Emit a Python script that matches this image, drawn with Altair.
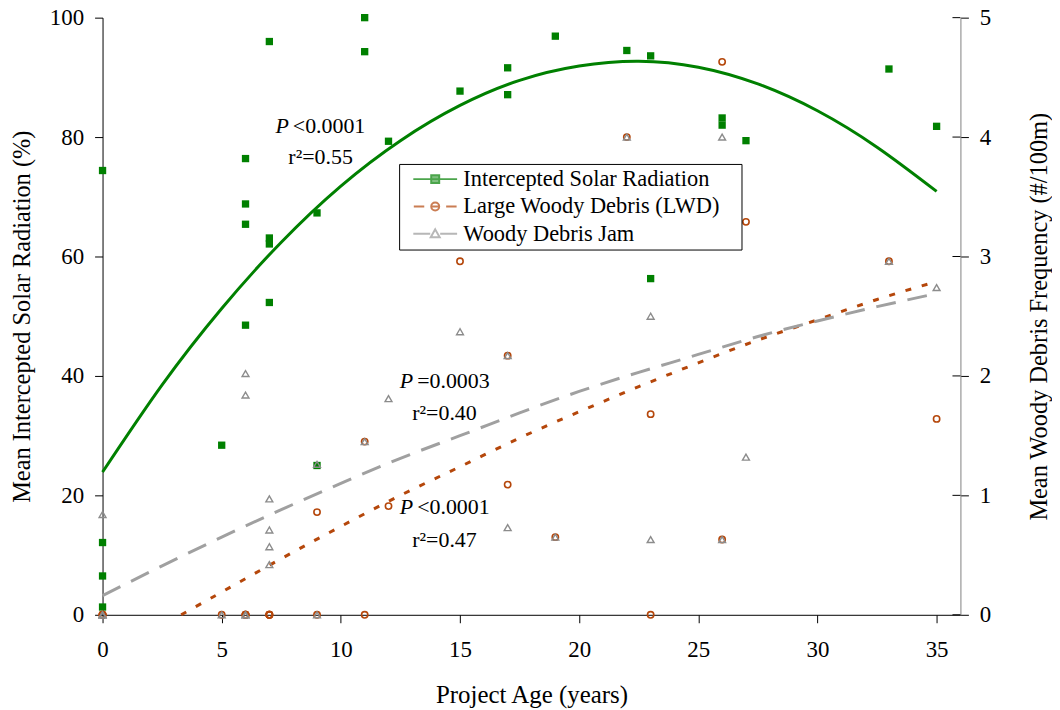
import altair as alt
import pandas as pd

FONT = "Liberation Serif"
PAD_CHAR = "\u2800"

# ---- scatter data ----
solar_x = [0, 0, 0, 0, 5, 6, 6, 6, 6, 7, 7, 7, 7, 9, 9, 11, 11, 12, 15, 17, 17, 19, 22, 23, 23, 26, 26, 27, 33, 35]
solar_y = [74.4, 12.1, 6.5, 1.3, 28.4, 76.4, 68.8, 65.4, 48.5, 96.0, 63.1, 62.1, 52.3, 67.3, 25.0,
           100.0, 94.3, 79.3, 87.7, 91.6, 87.1, 96.9, 94.5, 93.6, 56.3, 83.2, 82.0, 79.4, 91.4, 81.8]

lwd_x = [0, 0, 0, 0, 5, 6, 6, 6, 6, 7, 7, 7, 7, 9, 9, 11, 11, 12, 15, 17, 17, 19, 22, 23, 23, 26, 26, 27, 33, 35]
lwd_y = [0, 0, 0, 0, 0, 0, 0, 0, 0, 0, 0, 0, 0, 0.86, 0, 1.45, 0, 0.91, 2.96, 2.17, 1.09, 0.65,
         4.0, 1.68, 0, 4.63, 0.63, 3.29, 2.96, 1.64]

jam_x = [0, 0, 0, 0, 5, 6, 6, 6, 6, 7, 7, 7, 7, 9, 9, 11, 12, 15, 17, 17, 19, 22, 23, 23, 26, 26, 27, 33, 35]
jam_y = [0.84, 0, 0, 0, 0, 2.02, 1.84, 0, 0, 0.97, 0.71, 0.57, 0.42, 1.26, 0, 1.45, 1.81, 2.37,
         2.17, 0.73, 0.65, 4.0, 2.50, 0.63, 4.0, 0.63, 1.32, 2.96, 2.74]

# ---- fitted curves ----
solar_fit_x = [0, 2.5, 5, 7.5, 10, 12.5, 15, 17.5, 20, 22.5, 25, 27.5, 30, 32.5, 35]
solar_fit_y = [23.9, 38.5, 51.3, 62.4, 71.8, 79.4, 85.3, 89.5, 91.9, 92.7, 91.7, 88.9, 84.4, 78.3, 70.9]

lwd_fit_x = [3.3, 5, 7.5, 10, 12.5, 15, 17.5, 20, 22.5, 25, 27.5, 30, 32.5, 35]
lwd_fit_y = [0.0, 0.19, 0.47, 0.74, 1.00, 1.24, 1.48, 1.70, 1.91, 2.11, 2.30, 2.47, 2.64, 2.79]

jam_fit_x = [0, 2.5, 5, 7.5, 10, 12.5, 15, 17.5, 20, 22.5, 25, 27.5, 30, 32.5, 35]
jam_fit_y = [0.16, 0.41, 0.65, 0.88, 1.10, 1.31, 1.50, 1.69, 1.87, 2.03, 2.18, 2.33, 2.46, 2.58, 2.69]

# ---- annotations ----
ann_p_x = [7.9, 13.12, 13.12]
ann_p_y = [80.7, 38.0, 16.8]
ann_p_rest = ["<0.0001", "=0.0003", "<0.0001"]
ann_r_x = [9.15, 14.35, 14.35]
ann_r_y = [75.5, 32.7, 11.4]
ann_r_text = ["r\u00b2=0.55", "r\u00b2=0.40", "r\u00b2=0.47"]

# ---- legend / styling ----
series = ["Intercepted Solar Radiation", "Large Woody Debris (LWD)", "Woody Debris Jam"]
GREEN = "#008000"
BROWN = "#B5470B"
GRAY = "#999999"
colors = [GREEN, BROWN, GRAY]
fills = [GREEN, "transparent", "transparent"]
shapes = [
    "M-2.2,0H2.2M-0.4,-0.4H0.4V0.4H-0.4Z",
    "M-2.15,0H-1.1M1.1,0H2.15M-0.4,0H0.4M-0.4,0A0.4,0.4,0,1,1,0.4,0A0.4,0.4,0,1,1,-0.4,0",
    "M-2.2,0H-0.5M0.5,0H2.2M0,-0.45L0.45,0.35L-0.45,0.35Z",
]

x_ticks = [0, 5, 10, 15, 20, 25, 30, 35]
left_ticks = [0, 20, 40, 60, 80, 100]
right_ticks = [0, 1, 2, 3, 4, 5]
X_MAX = 36

xscale = alt.Scale(domain=[0, X_MAX], nice=False, zero=False)
lscale = alt.Scale(domain=[0, 100], nice=False)
rscale = alt.Scale(domain=[0, 5], nice=False)

x_axis = alt.Axis(values=x_ticks, title="Project Age (years)", grid=False, format="d",
                  labelFlush=False, domainColor="black", tickColor="black", tickSize=8,
                  labelFont=FONT, labelFontSize=23, labelColor="black", labelPadding=16,
                  titleFont=FONT, titleFontSize=25, titleFontWeight="normal", titleColor="black",
                  titlePadding=21)
left_axis = alt.Axis(values=left_ticks, title="Mean Intercepted Solar Radiation (%)", grid=False,
                     format="d", labelFlush=False, domainColor="black", tickColor="black", tickSize=8,
                     labelFont=FONT, labelFontSize=23, labelColor="black", labelPadding=11,
                     titleFont=FONT, titleFontSize=24.5, titleFontWeight="normal", titleColor="black",
                     titlePadding=15)
right_axis = alt.Axis(values=right_ticks, title="Mean Woody Debris Frequency (#/100m)", grid=False,
                      orient="right", format="d", labelFlush=False, domainColor="#808080",
                      tickColor="black", tickSize=8,
                      labelFont=FONT, labelFontSize=23, labelColor="black", labelPadding=11,
                      titleFont=FONT, titleFontSize=24.5, titleFontWeight="normal", titleColor="black",
                      titleAngle=270, titleBaseline="top", titlePadding=37)

solar_df = pd.DataFrame({"x": solar_x, "y": solar_y})
lwd_df = pd.DataFrame({"x": lwd_x, "y": lwd_y})
jam_df = pd.DataFrame({"x": jam_x, "y": jam_y})
solar_fit = pd.DataFrame({"x": solar_fit_x, "y": solar_fit_y})
lwd_fit = pd.DataFrame({"x": lwd_fit_x, "y": lwd_fit_y})
jam_fit = pd.DataFrame({"x": jam_fit_x, "y": jam_fit_y})
ann_p = pd.DataFrame({"x": ann_p_x, "y": ann_p_y, "rest": ann_p_rest, "p": ["P"] * 3})
ann_r = pd.DataFrame({"x": ann_r_x, "y": ann_r_y, "t": ann_r_text})
legend_df = pd.DataFrame({"series": series, "x": [None] * 3, "y": [None] * 3})
tick_df = pd.DataFrame({"v": right_ticks, "x": [X_MAX] * len(right_ticks)})

# ---- left (solar) group ----
solar_line = alt.Chart(solar_fit).mark_line(color=GREEN, strokeWidth=3, interpolate="natural").encode(
    x=alt.X("x:Q", scale=xscale, axis=x_axis),
    y=alt.Y("y:Q", scale=lscale, axis=left_axis),
)
solar_pts = alt.Chart(solar_df).mark_point(shape="square", filled=True, color=GREEN, size=54, opacity=1).encode(
    x=alt.X("x:Q", scale=xscale), y=alt.Y("y:Q", scale=lscale))
p_text = alt.Chart(ann_p).mark_text(font=FONT, fontSize=22, fontStyle="italic", align="right",
                                     baseline="alphabetic", dx=-2, color="black").encode(
    x=alt.X("x:Q", scale=xscale), y=alt.Y("y:Q", scale=lscale), text="p:N")
rest_text = alt.Chart(ann_p).mark_text(font=FONT, fontSize=22, align="left",
                                        baseline="alphabetic", dx=2, color="black").encode(
    x=alt.X("x:Q", scale=xscale), y=alt.Y("y:Q", scale=lscale), text="rest:N")
r_text = alt.Chart(ann_r).mark_text(font=FONT, fontSize=22, align="center",
                                     baseline="alphabetic", color="black").encode(
    x=alt.X("x:Q", scale=xscale), y=alt.Y("y:Q", scale=lscale), text="t:N")

left_group = alt.layer(solar_pts, solar_line, p_text, rest_text, r_text)

# ---- right (debris) group ----
lwd_line = alt.Chart(lwd_fit).mark_line(color=BROWN, strokeWidth=3, strokeDash=[6, 11],
                                        interpolate="natural").encode(
    x=alt.X("x:Q", scale=xscale),
    y=alt.Y("y:Q", scale=rscale, axis=right_axis),
)
jam_line = alt.Chart(jam_fit).mark_line(color="#A0A0A0", strokeWidth=3, strokeDash=[20, 12],
                                        interpolate="natural").encode(
    x=alt.X("x:Q", scale=xscale), y=alt.Y("y:Q", scale=rscale))
lwd_pts = alt.Chart(lwd_df).mark_point(shape="circle", filled=False, color=BROWN, size=40,
                                       strokeWidth=1.6, opacity=1).encode(
    x=alt.X("x:Q", scale=xscale), y=alt.Y("y:Q", scale=rscale))
jam_pts = alt.Chart(jam_df).mark_point(shape="triangle-up", filled=False, color="#8C8C8C", size=48,
                                       strokeWidth=1.4, opacity=1).encode(
    x=alt.X("x:Q", scale=xscale), y=alt.Y("y:Q", scale=rscale))
inner_ticks = alt.Chart(tick_df).mark_rule(color="black", strokeWidth=1, xOffset=-8).encode(
    x=alt.X("x:Q", scale=xscale), x2="x:Q", y=alt.Y("v:Q", scale=rscale))

leg = alt.Legend(title=None, orient="none", legendX=298, legendY=147, padding=4,
                 fillColor="white", strokeColor="black", labelFont=FONT, labelFontSize=22.5,
                 labelColor="black", labelLimit=600, rowPadding=4.5, symbolSize=400,
                 symbolStrokeWidth=2, symbolOffset=21, labelOffset=17,
                 labelExpr="datum.label + '" + PAD_CHAR + "'")
legend_layer = alt.Chart(legend_df).mark_point().encode(
    x=alt.X("x:Q", scale=xscale),
    y=alt.Y("y:Q", scale=rscale),
    stroke=alt.Stroke("series:N", scale=alt.Scale(domain=series, range=colors), legend=leg),
    fill=alt.Fill("series:N", scale=alt.Scale(domain=series, range=fills), legend=leg),
    shape=alt.Shape("series:N", scale=alt.Scale(domain=series, range=shapes), legend=leg),
)

right_group = alt.layer(lwd_line, jam_line, lwd_pts, jam_pts, inner_ticks, legend_layer)

chart = alt.layer(left_group, right_group).resolve_scale(y="independent").properties(
    width=862, height=600,
    autosize=alt.AutoSizeParams(type="none"),
    padding={"left": 95, "top": 8, "right": 92, "bottom": 98},
    background="white",
).configure_view(stroke=None)

chart.save("out.html", embed_options={"renderer": "svg", "actions": False})
